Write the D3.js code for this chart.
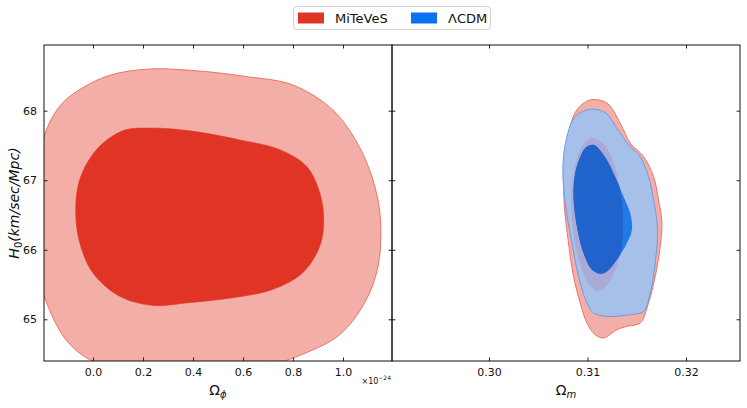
<!DOCTYPE html>
<html>
<head>
<meta charset="utf-8">
<script src="https://cdn.jsdelivr.net/npm/d3@7"></script>
<style>
  body { margin: 0; background: #fff; }
  text { font-family: "DejaVu Sans", sans-serif; fill: #111; }
</style>
</head>
<body>
<div id="chart"></div>
<script>
// contour outlines (x value, H0 value)
const phiOuter = [[0.227,68.60],[0.427,68.57],[0.615,68.49],[0.799,68.37],[0.959,68.01],[1.067,67.47],
  [1.131,66.86],[1.151,66.34],[1.139,65.74],[1.087,65.24],[0.987,64.78],[0.847,64.51],[0.687,64.33],
  [0.347,64.25],[0.047,64.33],[-0.093,64.64],[-0.197,65.35],[-0.229,65.93],[-0.237,66.57],[-0.213,67.22],
  [-0.189,67.70],[-0.125,68.10],[-0.041,68.33],[0.067,68.51]];
const phiInner = [[0.227,67.75],[0.387,67.71],[0.587,67.58],[0.747,67.44],[0.854,67.20],[0.907,66.82],
  [0.923,66.43],[0.907,66.05],[0.839,65.67],[0.719,65.43],[0.559,65.31],[0.387,65.24],[0.239,65.20],
  [0.107,65.33],[-0.001,65.67],[-0.053,66.10],[-0.069,66.53],[-0.053,67.01],[0.014,67.44],[0.119,67.71]];

const omRedOuter = [[0.31027,68.155],[0.31197,68.108],[0.31332,67.820],[0.31434,67.533],[0.31569,67.341],
  [0.31670,67.053],[0.31721,66.718],[0.31755,66.384],[0.31738,66.047],[0.31687,65.616],[0.31619,65.234],
  [0.31535,64.947],[0.31400,64.898],[0.31298,64.851],[0.31162,64.731],[0.31078,64.779],[0.30994,64.947],
  [0.30926,65.234],[0.30858,65.616],[0.30807,66.096],[0.30763,66.671],[0.30763,67.197],[0.30807,67.677],
  [0.30892,68.011]];
const omRedInner = [[0.31058,67.609],[0.31170,67.509],[0.31261,67.264],[0.31332,66.862],[0.31362,66.431],
  [0.31342,66.000],[0.31261,65.641],[0.31159,65.440],[0.31088,65.411],[0.31007,65.511],[0.30926,65.784],
  [0.30865,66.144],[0.30835,66.575],[0.30845,67.006],[0.30906,67.365],[0.30977,67.552]];
const omBlueOuter = [[0.31027,68.022],[0.31180,67.973],[0.31298,67.749],[0.31416,67.509],[0.31535,67.341],
  [0.31619,67.053],[0.31670,66.718],[0.31711,66.287],[0.31687,65.809],[0.31637,65.378],[0.31569,65.113],
  [0.31434,65.066],[0.31197,65.042],[0.31061,65.091],[0.30994,65.234],[0.30909,65.616],[0.30842,66.096],
  [0.30774,66.671],[0.30750,67.197],[0.30791,67.628],[0.30875,67.915]];
const omBlueInner = [[0.31061,67.509],[0.31162,67.365],[0.31264,67.102],[0.31365,66.766],[0.31433,66.527],
  [0.31451,66.287],[0.31400,66.096],[0.31298,65.856],[0.31197,65.688],[0.31129,65.655],[0.31045,65.713],
  [0.30959,65.953],[0.30892,66.335],[0.30858,66.766],[0.30875,67.102],[0.30943,67.389],[0.30994,67.484]];

const h0Ticks = [65, 66, 67, 68];
const phiTicks = [0.0, 0.2, 0.4, 0.6, 0.8, 1.0];
const omTicks = [0.30, 0.31, 0.32];
const series = ["MiTeVeS", "\u039BCDM"];

const W = 747, H = 408;
const plotTop = 45, plotBottom = 361;
const leftPanel = {x0: 44, x1: 392}, rightPanel = {x0: 392, x1: 740};

const svg = d3.select("#chart").append("svg")
  .attr("width", W).attr("height", H);

let y = d3.scaleLinear().domain([64.40, 68.945]).range([plotBottom, plotTop]);
let xPhi = d3.scaleLinear().domain([-0.196, 1.196]).range([leftPanel.x0, leftPanel.x1]);
let xOm = d3.scaleLinear().domain([0.29015, 0.32548]).range([rightPanel.x0, rightPanel.x1]);

// clip paths for both panels
let defs = svg.append("defs");
defs.append("clipPath").attr("id", "clipL").append("rect")
  .attr("x", leftPanel.x0).attr("y", plotTop).attr("width", leftPanel.x1 - leftPanel.x0).attr("height", plotBottom - plotTop);
defs.append("clipPath").attr("id", "clipR").append("rect")
  .attr("x", rightPanel.x0).attr("y", plotTop).attr("width", rightPanel.x1 - rightPanel.x0).attr("height", plotBottom - plotTop);

function shape(x) {
  return d3.line().x(d => x(d[0])).y(d => y(d[1])).curve(d3.curveCatmullRomClosed.alpha(0.5));
}

// left panel
let gL = svg.append("g").attr("clip-path", "url(#clipL)");
gL.append("path").attr("d", shape(xPhi)(phiOuter))
  .attr("fill", "#f3aea7").attr("stroke", "#ea7468").attr("stroke-width", 1);
gL.append("path").attr("d", shape(xPhi)(phiInner))
  .attr("fill", "#e03525").attr("stroke", "#e03525").attr("stroke-width", 0.6);

// right panel
let gR = svg.append("g").attr("clip-path", "url(#clipR)");
gR.append("path").attr("d", shape(xOm)(omRedOuter))
  .attr("fill", "#f3aea7").attr("stroke", "#ea7468").attr("stroke-width", 1);
gR.append("path").attr("d", shape(xOm)(omBlueOuter))
  .attr("fill", "#a7c0ea").attr("stroke", "#6f9ae2").attr("stroke-width", 1);
gR.append("path").attr("d", shape(xOm)(omRedInner))
  .attr("fill", "#a9abd4");
defs.append("clipPath").attr("id", "clipRedIn").append("path")
  .attr("d", shape(xOm)(omRedInner));
gR.append("path").attr("d", shape(xOm)(omBlueInner))
  .attr("fill", "#217ae6");
gR.append("path").attr("d", shape(xOm)(omBlueInner))
  .attr("fill", "#2163cc").attr("clip-path", "url(#clipRedIn)");

// axes: inward ticks on all four sides
function axes(x, ticks, fmt, p, showY) {
  let b = svg.append("g").attr("transform", `translate(0,${plotBottom})`)
    .call(d3.axisBottom(x).tickValues(ticks).tickFormat(fmt).tickSizeInner(-3.5).tickSizeOuter(0).tickPadding(7));
  let t = svg.append("g").attr("transform", `translate(0,${plotTop})`)
    .call(d3.axisTop(x).tickValues(ticks).tickFormat("").tickSizeInner(-3.5).tickSizeOuter(0));
  let l = svg.append("g").attr("transform", `translate(${p.x0},0)`)
    .call(d3.axisLeft(y).tickValues(h0Ticks).tickFormat(showY ? d3.format("d") : "").tickSizeInner(-3.5).tickSizeOuter(0).tickPadding(7));
  let r = svg.append("g").attr("transform", `translate(${p.x1},0)`)
    .call(d3.axisRight(y).tickValues(h0Ticks).tickFormat("").tickSizeInner(-3.5).tickSizeOuter(0));
  [b, t, l, r].forEach(g => {
    g.select(".domain").remove();
    g.selectAll("line").attr("stroke", "#111").attr("stroke-width", 0.9);
    g.selectAll("text").style("font-size", "11px").attr("fill", "#111");
  });
  svg.append("rect").attr("x", p.x0).attr("y", plotTop)
    .attr("width", p.x1 - p.x0).attr("height", plotBottom - plotTop)
    .attr("fill", "none").attr("stroke", "#111").attr("stroke-width", 1);
}
axes(xPhi, phiTicks, d3.format(".1f"), leftPanel, true);
axes(xOm, omTicks, d3.format(".2f"), rightPanel, false);

// axis labels
let lx = svg.append("text").attr("x", (leftPanel.x0 + leftPanel.x1) / 2).attr("y", 395)
  .attr("text-anchor", "middle").style("font-size", "14px");
lx.append("tspan").text("\u03A9");
lx.append("tspan").text("\u03D5").attr("dy", 3).style("font-size", "10px").style("font-style", "italic");

let rx = svg.append("text").attr("x", (rightPanel.x0 + rightPanel.x1) / 2).attr("y", 395)
  .attr("text-anchor", "middle").style("font-size", "14px");
rx.append("tspan").text("\u03A9");
rx.append("tspan").text("m").attr("dy", 3).style("font-size", "10px").style("font-style", "italic");

let ly = svg.append("text").attr("transform", `translate(19,${(plotTop + plotBottom) / 2}) rotate(-90)`)
  .attr("text-anchor", "middle").style("font-size", "14px").style("font-style", "italic");
ly.append("tspan").text("H");
ly.append("tspan").text("0").attr("dy", 3).style("font-size", "10px").style("font-style", "normal");
ly.append("tspan").text("(km/sec/Mpc)").attr("dy", -3);

// offset text under the left panel
let off = svg.append("text").attr("x", leftPanel.x1 - 1).attr("y", 384)
  .attr("text-anchor", "end").style("font-size", "8px");
off.append("tspan").text("\u00D710");
off.append("tspan").text("\u221224").attr("dy", -4).style("font-size", "6px");

// legend
let leg = svg.append("g");
leg.append("rect").attr("x", 293.5).attr("y", 6.5).attr("width", 197).attr("height", 23)
  .attr("rx", 3).attr("fill", "#fff").attr("stroke", "#d0d0d0");
const legColors = ["#e03526", "#0a72ee"];
const legX = [298, 411];
series.forEach((s, i) => {
  leg.append("rect").attr("x", legX[i]).attr("y", 12.5).attr("width", 26).attr("height", 11)
    .attr("fill", legColors[i]);
  leg.append("text").attr("x", legX[i] + 37).attr("y", 23).style("font-size", "13px").text(s);
});
</script>
</body>
</html>
